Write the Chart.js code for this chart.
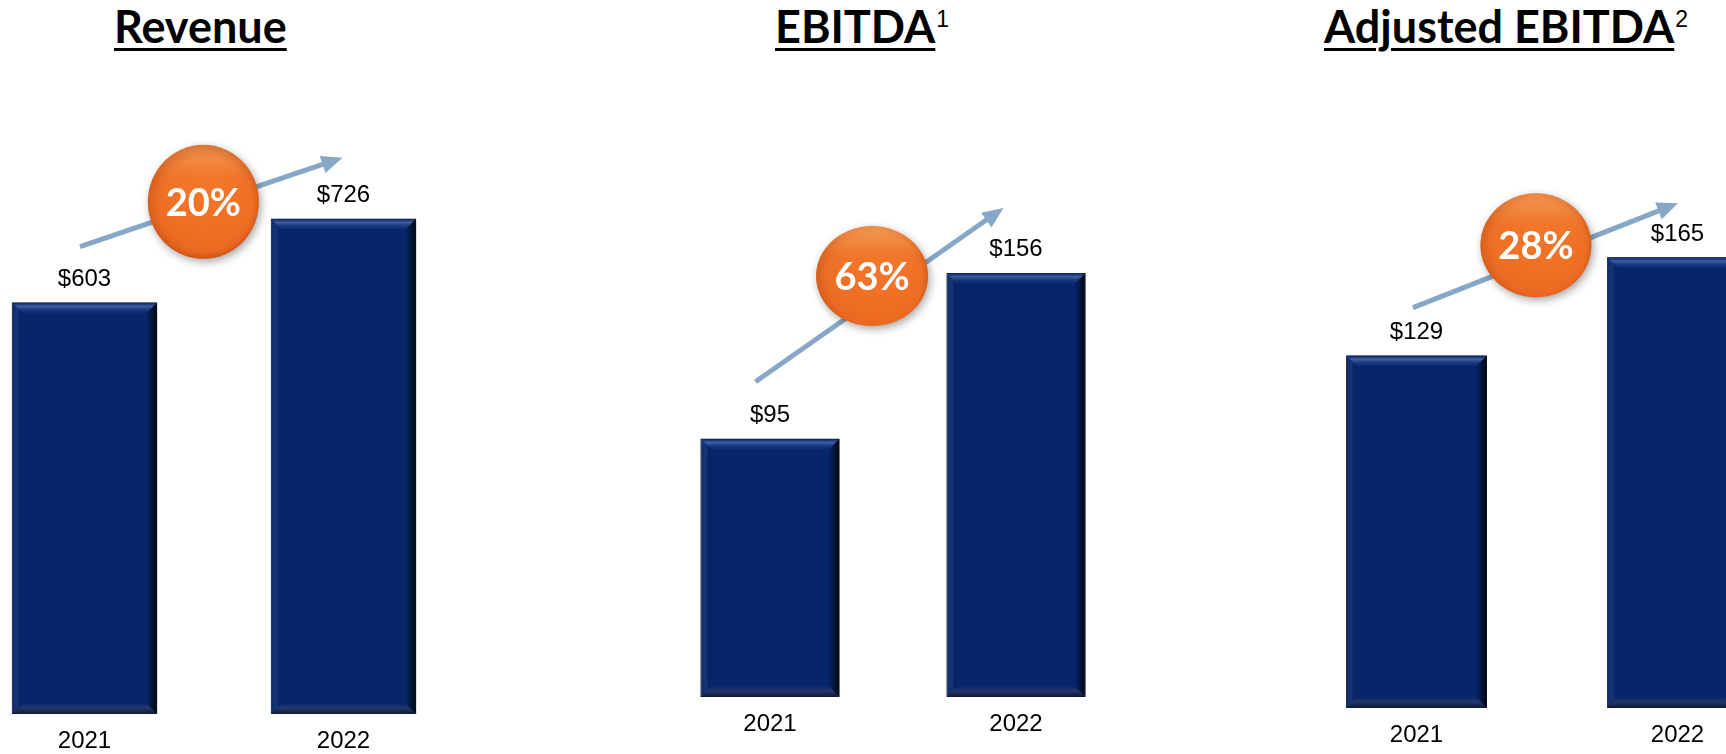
<!DOCTYPE html>
<html>
<head>
<meta charset="utf-8">
<script src="https://cdn.jsdelivr.net/npm/chart.js@4.4.0/dist/chart.umd.min.js"></script>
<style>
  html, body { margin: 0; padding: 0; background: #fff; }
  body { width: 1726px; height: 754px; position: relative; overflow: hidden; }
  .titulo { position: absolute; top: 4px; font-family: Lato, sans-serif; font-weight: 700; font-size: 45px; line-height: 1; color: #000; white-space: nowrap; }
  .titulo u { text-decoration-thickness: 3px; text-underline-offset: 5px; }
  .titulo .sup { font-family: "Liberation Sans", Arial, sans-serif; font-weight: 400; font-size: 23px; position: relative; top: -16px; margin-left: 1px; }
  .panel { position: absolute; }
</style>
</head>
<body>
<div class="titulo" style="left:114px"><u>Revenue</u></div>
<div class="titulo" style="left:775px"><u>EBITDA</u><span class="sup">1</span></div>
<div class="titulo" style="left:1324px"><u>Adjusted EBITDA</u><span class="sup">2</span></div>

<div class="panel" style="left:-45px; top:100px; width:518px; height:658px"><canvas id="grafIngresos"></canvas></div>
<div class="panel" style="left:647px; top:99px; width:492px; height:642px"><canvas id="grafEbitda"></canvas></div>
<div class="panel" style="left:1286px; top:107px; width:522px; height:645px"><canvas id="grafAjustado"></canvas></div>

<script>
const anios = ["2021", "2022"];
const ingresos = [603, 726];
const ebitda = [95, 156];
const ebitdaAjustado = [129, 165];
const crecimiento = ["20%", "63%", "28%"];

// bisel tipo PowerPoint encima de cada barra
function dibujarBisel(ctx, b) {
  const izq = b.x - b.width / 2, der = b.x + b.width / 2;
  const arriba = b.y, abajo = b.base;
  const d = 11;
  ctx.save();
  let g = ctx.createLinearGradient(0, arriba, 0, arriba + d);
  g.addColorStop(0, "#0a1f55");
  g.addColorStop(0.35, "#3c5fa6");
  g.addColorStop(0.6, "#1d3d83");
  g.addColorStop(1, "#07266b");
  ctx.fillStyle = g;
  ctx.beginPath();
  ctx.moveTo(izq, arriba); ctx.lineTo(der, arriba);
  ctx.lineTo(der - d, arriba + d); ctx.lineTo(izq + d, arriba + d);
  ctx.closePath(); ctx.fill();

  g = ctx.createLinearGradient(0, abajo - d, 0, abajo);
  g.addColorStop(0, "#08276a");
  g.addColorStop(0.45, "#25376a");
  g.addColorStop(1, "#0d1838");
  ctx.fillStyle = g;
  ctx.beginPath();
  ctx.moveTo(izq, abajo); ctx.lineTo(der, abajo);
  ctx.lineTo(der - d, abajo - d); ctx.lineTo(izq + d, abajo - d);
  ctx.closePath(); ctx.fill();

  g = ctx.createLinearGradient(der - d, 0, der, 0);
  g.addColorStop(0, "rgba(0,0,0,0)");
  g.addColorStop(1, "rgba(0,0,0,0.85)");
  ctx.fillStyle = g;
  ctx.beginPath();
  ctx.moveTo(der, arriba); ctx.lineTo(der, abajo);
  ctx.lineTo(der - d, abajo - d); ctx.lineTo(der - d, arriba + d);
  ctx.closePath(); ctx.fill();

  g = ctx.createLinearGradient(izq, 0, izq + d, 0);
  g.addColorStop(0, "rgba(20,40,90,0.6)");
  g.addColorStop(0.5, "rgba(50,80,150,0.35)");
  g.addColorStop(1, "rgba(0,0,0,0)");
  ctx.fillStyle = g;
  ctx.beginPath();
  ctx.moveTo(izq, arriba); ctx.lineTo(izq, abajo);
  ctx.lineTo(izq + d, abajo - d); ctx.lineTo(izq + d, arriba + d);
  ctx.closePath(); ctx.fill();
  ctx.restore();
}

function dibujarFlecha(ctx, x0, y0, x1, y1) {
  const ang = Math.atan2(y1 - y0, x1 - x0);
  const largo = 21, ancho = 9;
  const bx = x1 - largo * Math.cos(ang), by = y1 - largo * Math.sin(ang);
  ctx.save();
  ctx.strokeStyle = "#86A7C7";
  ctx.fillStyle = "#86A7C7";
  ctx.lineWidth = 5;
  ctx.beginPath(); ctx.moveTo(x0, y0); ctx.lineTo(bx + 3 * Math.cos(ang), by + 3 * Math.sin(ang)); ctx.stroke();
  ctx.beginPath();
  ctx.moveTo(x1, y1);
  ctx.lineTo(bx + ancho * Math.sin(ang), by - ancho * Math.cos(ang));
  ctx.lineTo(bx - ancho * Math.sin(ang), by + ancho * Math.cos(ang));
  ctx.closePath(); ctx.fill();
  ctx.restore();
}

function dibujarBadge(ctx, cx, cy, rx, ry, texto) {
  ctx.save();
  ctx.shadowColor = "rgba(0,0,0,0.35)";
  ctx.shadowBlur = 8; ctx.shadowOffsetX = 2; ctx.shadowOffsetY = 3;
  let g = ctx.createLinearGradient(0, cy - ry, 0, cy + ry);
  g.addColorStop(0, "#F8A35C");
  g.addColorStop(0.3, "#F3772A");
  g.addColorStop(1, "#EE6A20");
  ctx.fillStyle = g;
  ctx.beginPath(); ctx.ellipse(cx, cy, rx, ry, 0, 0, Math.PI * 2); ctx.fill();
  ctx.restore();

  ctx.save();
  g = ctx.createRadialGradient(cx + rx * 0.25, cy + ry * 0.3, rx * 0.2, cx, cy, rx);
  g.addColorStop(0, "rgba(255,120,40,0)");
  g.addColorStop(0.8, "rgba(200,80,20,0.12)");
  g.addColorStop(1, "rgba(170,60,10,0.4)");
  ctx.fillStyle = g;
  ctx.beginPath(); ctx.ellipse(cx, cy, rx, ry, 0, 0, Math.PI * 2); ctx.fill();

  ctx.fillStyle = "#fff";
  ctx.font = "bold 38px Lato";
  ctx.textAlign = "center";
  ctx.textBaseline = "alphabetic";
  ctx.fillText(texto, cx, cy + 14);
  ctx.restore();
}

const decoracion = {
  id: "decoracion",
  afterDatasetsDraw(chart, args, opts) {
    const ctx = chart.ctx;
    const barras = chart.getDatasetMeta(0).data;
    const valores = chart.data.datasets[0].data;
    barras.forEach(b => dibujarBisel(ctx, b));

    ctx.save();
    ctx.font = "24px 'Liberation Sans', Arial";
    ctx.fillStyle = "#000";
    ctx.textAlign = "center";
    ctx.textBaseline = "alphabetic";
    barras.forEach((b, i) => ctx.fillText("$" + valores[i], b.x, b.y - 16.5));
    ctx.restore();

    const a = barras[0], c = barras[1];
    const x0 = a.x + opts.inicio[0], y0 = a.y + opts.inicio[1];
    const x1 = c.x + opts.fin[0], y1 = c.y + opts.fin[1];
    dibujarFlecha(ctx, x0, y0, x1, y1);
    const cx = x0 + (x1 - x0) * opts.t;
    const cy = y0 + (y1 - y0) * opts.t + opts.dy;
    dibujarBadge(ctx, cx, cy, opts.rx, opts.ry, opts.texto);
  }
};

function crearGrafico(id, valores, maxY, catPct, deco) {
  return new Chart(document.getElementById(id), {
    type: "bar",
    data: {
      labels: anios,
      datasets: [{
        data: valores,
        backgroundColor: "#06256A",
        borderColor: "#30343d",
        borderWidth: 1,
        barPercentage: 1,
        categoryPercentage: catPct
      }]
    },
    options: {
      responsive: true,
      maintainAspectRatio: false,
      animation: false,
      layout: { padding: 0 },
      plugins: {
        legend: { display: false },
        tooltip: { enabled: false },
        decoracion: deco
      },
      scales: {
        x: {
          grid: { display: false, drawTicks: false },
          border: { display: false },
          ticks: { color: "#000", font: { family: "'Liberation Sans', Arial", size: 24 }, padding: 13 },
          afterFit(s) { s.height = 44; }
        },
        y: { display: false, min: 0, max: maxY }
      }
    },
    plugins: [decoracion]
  });
}

crearGrafico("grafIngresos", ingresos, 900, 0.561,
  { inicio: [-4.5, -56], fin: [-1, -61], t: 0.47, dy: -3, rx: 55.5, ry: 57, texto: crecimiento[0] });
crearGrafico("grafEbitda", ebitda, 220, 0.565,
  { inicio: [-14.5, -57], fin: [-12.5, -65], t: 0.47, dy: -24, rx: 56, ry: 50, texto: crecimiento[1] });
crearGrafico("grafAjustado", ebitdaAjustado, 220, 0.54,
  { inicio: [-3.5, -48], fin: [0.5, -54], t: 0.464, dy: -14, rx: 55.5, ry: 52, texto: crecimiento[2] });
</script>
</body>
</html>
